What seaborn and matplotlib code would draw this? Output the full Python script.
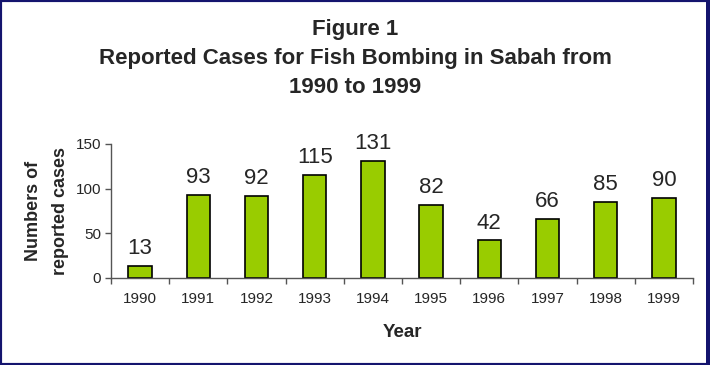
import numpy as np
import pandas as pd
import seaborn as sns
import matplotlib.pyplot as plt
from matplotlib.patches import Rectangle
from matplotlib.ticker import FixedLocator

years = ['1990', '1991', '1992', '1993', '1994', '1995', '1996', '1997', '1998', '1999']
cases = [13, 93, 92, 115, 131, 82, 42, 66, 85, 90]
y_ticks = [0, 50, 100, 150]

df = pd.DataFrame({'year': years, 'cases': cases})

sns.set_style('ticks')
plt.rcParams['font.family'] = ['Liberation Sans', 'DejaVu Sans']

fig = plt.figure(figsize=(7.1, 3.65), dpi=100)
ax = fig.add_axes([0.1563, 0.2384, 0.8197, 0.3671])

sns.barplot(data=df, x='year', y='cases', color='#99CC00', edgecolor='black',
            linewidth=1.2, width=0.4, saturation=1, ax=ax)

# value labels above bars
for i, v in enumerate(cases):
    ax.annotate(str(v), (i, v), xytext=(0, 8.6), textcoords='offset points',
                ha='center', va='baseline', fontsize=16)

ax.set_xlim(-0.5, len(years) - 0.5)
ax.set_ylim(0, 150)
ax.set_yticks(y_ticks)
ax.tick_params(axis='y', length=4, width=1, color='#555555', labelsize=11, pad=3)
ax.tick_params(axis='x', which='major', length=0, labelsize=11, pad=10)
ax.xaxis.set_minor_locator(FixedLocator(np.arange(-0.5, len(years), 1.0)))
ax.tick_params(axis='x', which='minor', length=4, width=1, color='#555555')
ax.set_xlabel('')
ax.set_ylabel('')

sns.despine(ax=ax)
for side in ['left', 'bottom']:
    ax.spines[side].set_color('#555555')
    ax.spines[side].set_linewidth(1)

fig.text(0.5, 1 - 35 / 365, 'Figure 1', ha='center', va='baseline',
         fontsize=16, fontweight='bold')
fig.text(0.5, 1 - 64 / 365, 'Reported Cases for Fish Bombing in Sabah from',
         ha='center', va='baseline', fontsize=16, fontweight='bold')
fig.text(0.5, 1 - 93 / 365, '1990 to 1999', ha='center', va='baseline',
         fontsize=16, fontweight='bold')

fig.text(402 / 710, 1 - 337 / 365, 'Year', ha='center', va='baseline',
         fontsize=13.5, fontweight='bold')
fig.text(47 / 710, 1 - 211 / 365, 'Numbers of\nreported cases', rotation=90,
         ha='center', va='center', multialignment='center', linespacing=1.75,
         fontsize=13, fontweight='bold')

# slide frame
fig.add_artist(Rectangle((0, 0), 1, 1, transform=fig.transFigure, fill=False,
                         edgecolor='#14146e', linewidth=3))
fig.add_artist(Rectangle((706 / 710, 0), 4 / 710, 1, transform=fig.transFigure,
                         facecolor='#14146e', edgecolor='none'))

fig.savefig('out.png', dpi=100)
